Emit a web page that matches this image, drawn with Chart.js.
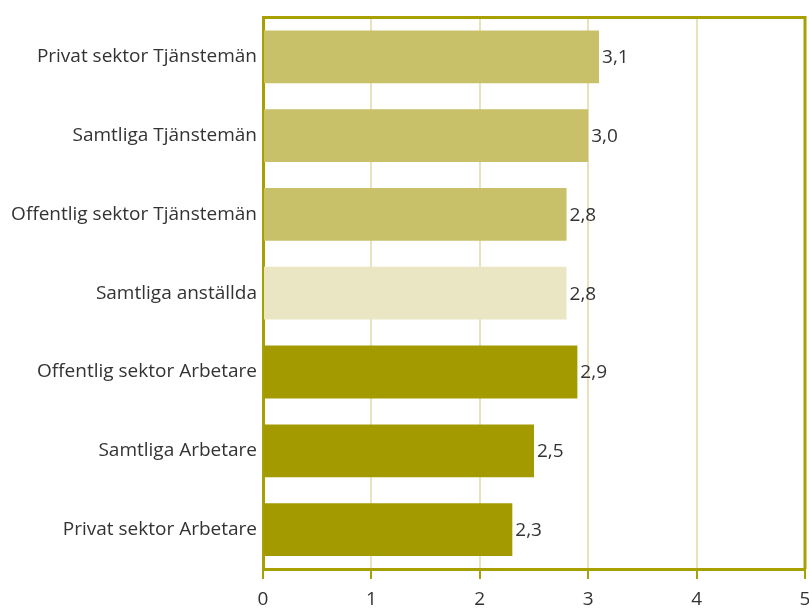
<!DOCTYPE html>
<html>
<head>
<meta charset="utf-8">
<script src="https://cdn.jsdelivr.net/npm/chart.js@4"></script>
<style>
  html, body { margin: 0; padding: 0; background: #fff; }
  #wrap { width: 809px; height: 610px; }
</style>
</head>
<body>
<div id="wrap"><canvas id="chart" width="809" height="610"></canvas></div>
<script>
// Data
const categories = [
  'Privat sektor Tjänstemän',
  'Samtliga Tjänstemän',
  'Offentlig sektor Tjänstemän',
  'Samtliga anställda',
  'Offentlig sektor Arbetare',
  'Samtliga Arbetare',
  'Privat sektor Arbetare'
];
const values = [3.1, 3.0, 2.8, 2.8, 2.9, 2.5, 2.3];
const groups = ['tj', 'tj', 'tj', 'all', 'arb', 'arb', 'arb'];
const xTicks = [0, 1, 2, 3, 4, 5];

const groupColors = { tj: '#C9C06A', all: '#EAE6C4', arb: '#A39A00' };
const frameColor = '#A8A000';
const gridColor = '#E8E3BC';
const textColor = '#333333';
const fontFamily = '"Open Sans", "Noto Sans", sans-serif';
const fontSize = 19;

// Value labels after each bar + frame on top/right
const valueLabels = {
  id: 'valueLabels',
  afterDatasetsDraw(chart) {
    const ctx = chart.ctx;
    const meta = chart.getDatasetMeta(0);
    ctx.save();
    ctx.font = fontSize + 'px ' + fontFamily;
    ctx.fillStyle = textColor;
    ctx.textAlign = 'left';
    ctx.textBaseline = 'middle';
    meta.data.forEach((bar, i) => {
      ctx.fillText(values[i].toFixed(1).replace('.', ','), bar.x + 3, bar.y + 1);
    });
    const a = chart.chartArea;
    ctx.strokeStyle = frameColor;
    ctx.lineWidth = 3;
    ctx.beginPath();
    ctx.moveTo(a.left, a.top);
    ctx.lineTo(a.right, a.top);
    ctx.lineTo(a.right, a.bottom);
    ctx.stroke();
    ctx.restore();
  }
};

new Chart(document.getElementById('chart'), {
  type: 'bar',
  data: {
    labels: categories,
    datasets: [{
      data: values,
      backgroundColor: groups.map(g => groupColors[g]),
      borderWidth: 0,
      barPercentage: 0.67,
      categoryPercentage: 1
    }]
  },
  options: {
    indexAxis: 'y',
    responsive: false,
    animation: false,
    layout: { padding: { top: 15, right: 4, left: 0, bottom: 0 } },
    plugins: {
      legend: { display: false },
      tooltip: { enabled: false }
    },
    scales: {
      x: {
        min: 0,
        max: 5,
        afterBuildTicks: (scale) => { scale.ticks = xTicks.map(v => ({ value: v })); },
        grid: { color: gridColor, lineWidth: 2, tickColor: frameColor, tickLength: 10, tickWidth: 2 },
        border: { color: frameColor, width: 3 },
        ticks: {
          color: textColor,
          font: { family: fontFamily, size: fontSize },
          padding: 9,
          callback: (v) => String(v)
        },
        afterFit: (scale) => {
          scale.height = 41;
          scale.paddingLeft = 0;
          scale.paddingRight = 0;
        }
      },
      y: {
        grid: { display: false, drawTicks: false },
        border: { color: frameColor, width: 3 },
        ticks: {
          color: textColor,
          font: { family: fontFamily, size: fontSize },
          padding: 6
        },
        afterFit: (scale) => { scale.width = 263; }
      }
    }
  },
  plugins: [valueLabels]
});
</script>
</body>
</html>
